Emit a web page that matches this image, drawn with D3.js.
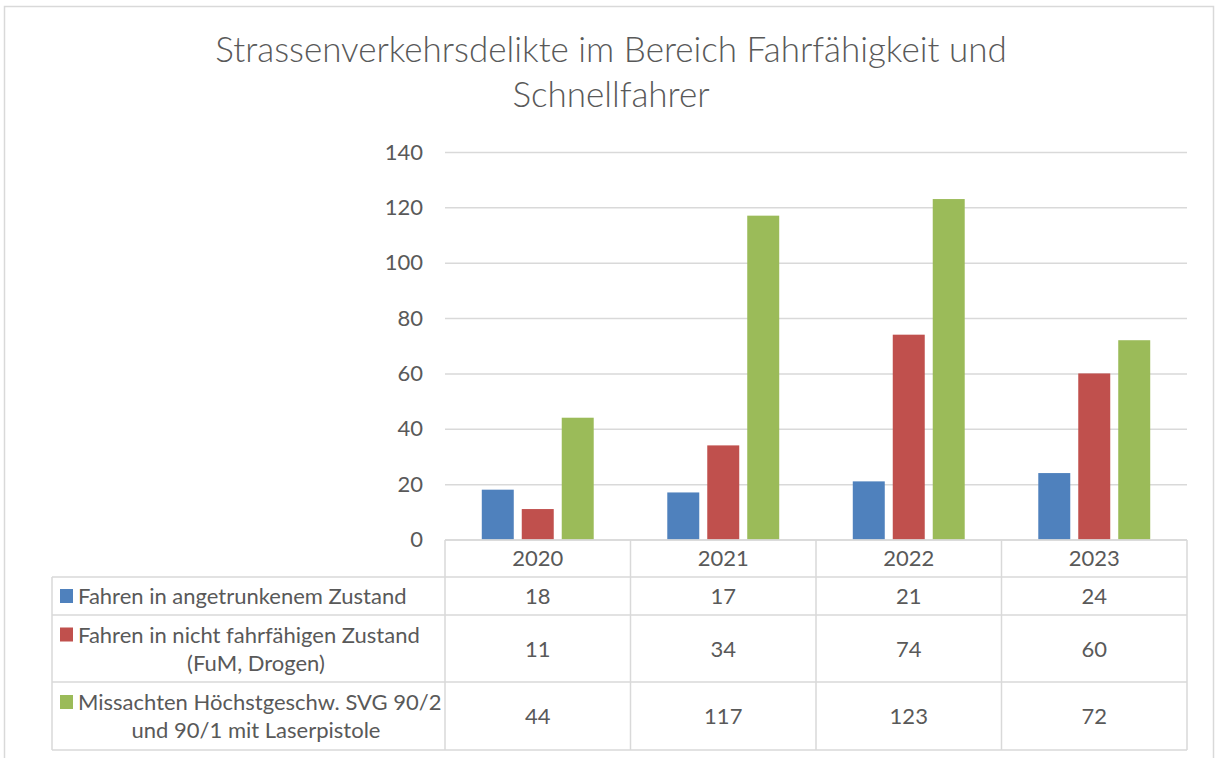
<!DOCTYPE html>
<html>
<head>
<meta charset="utf-8">
<script src="https://cdn.jsdelivr.net/npm/d3@7"></script>
<style>
  body { margin: 0; background: #fff; }
  text { font-family: Lato, "Open Sans", sans-serif; fill: #595959; }
</style>
</head>
<body>
<svg id="chart" width="1215" height="758"></svg>
<script>
// data
const years = ["2020", "2021", "2022", "2023"];
const seriesNames = [
  ["Fahren in angetrunkenem Zustand"],
  ["Fahren in nicht fahrfähigen Zustand", "(FuM, Drogen)"],
  ["Missachten Höchstgeschw. SVG 90/2", "und 90/1 mit Laserpistole"]
];
const drunk = [18, 17, 21, 24];
const unfit = [11, 34, 74, 60];
const speeding = [44, 117, 123, 72];
const yTicks = [0, 20, 40, 60, 80, 100, 120, 140];
const colors = ["#4F81BD", "#C0504D", "#9BBB59"];

const series = [drunk, unfit, speeding];
const grid = "#D9D9D9";
const fs = "22px";
const svg = d3.select("#chart");

// outer frame
svg.append("rect")
  .attr("x", 4.5).attr("y", 6.5).attr("width", 1209).attr("height", 760)
  .attr("fill", "none").attr("stroke", grid).attr("stroke-width", 1.5);

// title (light weight like the original)
const title = svg.append("text").attr("text-anchor", "middle")
  .style("font-size", "35px").style("font-weight", 300);
title.append("tspan").attr("x", 611).attr("y", 62).text("Strassenverkehrsdelikte im Bereich Fahrfähigkeit und");
title.append("tspan").attr("x", 611).attr("y", 107).text("Schnellfahrer");

// scales
const x0 = d3.scaleBand().domain(years).range([445, 1187]);
const x1 = d3.scaleBand().domain(d3.range(series.length))
  .range([0, x0.bandwidth()]).paddingInner(0.2).paddingOuter(0.92);
const y = d3.scaleLinear().domain([0, 140]).range([539.5, 152]);

// gridlines + y labels
const yAxis = d3.axisLeft(y).tickValues(yTicks).tickSize(-(1187 - 445)).tickPadding(22);
const ya = svg.append("g").attr("transform", "translate(445,0)").call(yAxis);
ya.select(".domain").remove();
ya.selectAll(".tick line").attr("stroke", grid).attr("stroke-width", 1.5);
ya.selectAll(".tick text").style("font-size", fs).attr("fill", "#595959");

// bars
svg.append("g").selectAll("g")
  .data(series)
  .join("g")
  .attr("fill", (d, i) => colors[i])
  .each(function (vals, si) {
    d3.select(this).selectAll("rect")
      .data(vals)
      .join("rect")
      .attr("x", (v, j) => x0(years[j]) + x1(si))
      .attr("width", x1.bandwidth())
      .attr("y", v => y(v))
      .attr("height", v => y(0) - y(v));
  });

// data table
const rowEdges = [577, 615, 682, 750];
const tbl = svg.append("g").attr("stroke", grid).attr("stroke-width", 1.5);
tbl.append("line").attr("x1", 445).attr("x2", 1187).attr("y1", 540).attr("y2", 540);
rowEdges.forEach(ry => tbl.append("line").attr("x1", 52).attr("x2", 1187).attr("y1", ry).attr("y2", ry));
tbl.append("line").attr("x1", 52).attr("x2", 52).attr("y1", 577).attr("y2", 750);
years.concat([null]).forEach(yr => {
  const lx = yr ? x0(yr) : x0.range()[1];
  tbl.append("line").attr("x1", lx).attr("x2", lx).attr("y1", 540).attr("y2", 750);
});

// header years
svg.append("g").selectAll("text")
  .data(years)
  .join("text")
  .attr("x", d => x0(d) + x0.bandwidth() / 2)
  .attr("y", 566)
  .attr("text-anchor", "middle")
  .style("font-size", fs)
  .text(d => d);

// table rows
series.forEach((vals, si) => {
  const top = rowEdges[si], bot = rowEdges[si + 1];
  const mid = (top + bot) / 2;
  const lines = seriesNames[si];
  const g = svg.append("g");
  const first = lines.length === 1 ? mid + 8 : mid - 6;
  g.append("rect").attr("x", 60).attr("y", first - 15).attr("width", 13).attr("height", 14).attr("fill", colors[si]);
  g.append("text").attr("x", 78).attr("y", first).style("font-size", fs).text(lines[0]);
  if (lines.length > 1) {
    g.append("text").attr("x", 256).attr("y", first + 28).attr("text-anchor", "middle")
      .style("font-size", fs).text(lines[1]);
  }
  g.selectAll(".val")
    .data(vals)
    .join("text")
    .attr("class", "val")
    .attr("x", (v, j) => x0(years[j]) + x0.bandwidth() / 2)
    .attr("y", mid + 8)
    .attr("text-anchor", "middle")
    .style("font-size", fs)
    .text(v => v);
});
</script>
</body>
</html>
